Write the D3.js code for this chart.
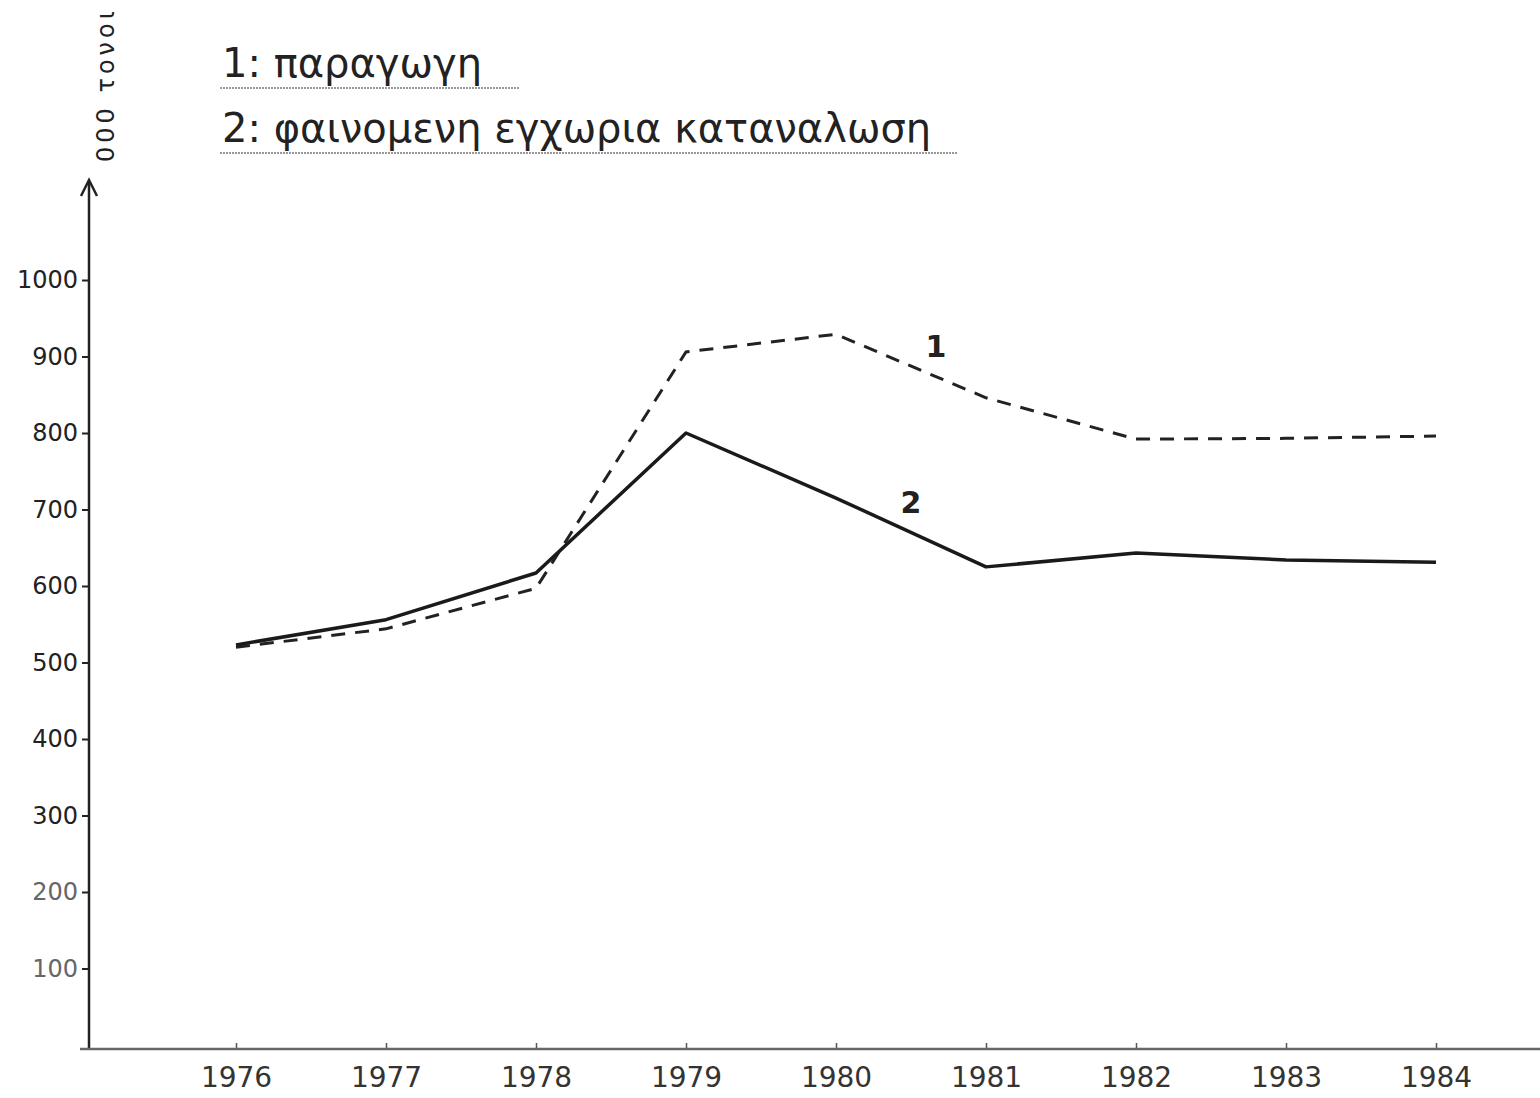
<!doctype html>
<meta charset="utf-8">
<title>Παραγωγή και κατανάλωση</title>
<style>
  body { margin: 0; background: #fff; }
  text { font-family: "DejaVu Sans", sans-serif; fill: #222; }
</style>
<svg id="visual" width="1540" height="1098"></svg>
<script src="https://cdn.jsdelivr.net/npm/d3@7"></script>
<script>

// (data)
var years = [1976, 1977, 1978, 1979, 1980, 1981, 1982, 1983, 1984];
var production = [520, 544, 597, 906, 929, 846, 792, 793, 796];
var consumption = [523, 556, 617, 800, 715, 625, 643, 634, 631];
var yTicks = [100, 200, 300, 400, 500, 600, 700, 800, 900, 1000];
var legendLabels = ["1: παραγωγη", "2: φαινομενη εγχωρια καταναλωση"];
var unitLabel = "000 τονοι";

var svg = d3.select("#visual");

// (scales)
var x = d3.scaleLinear().domain([1976, 1984]).range([236, 1436]);
var y = d3.scaleLinear().domain([0, 1000]).range([1045, 280]);

// (axes)
var yAxis = d3.axisLeft(y).tickValues(yTicks).tickFormat(d3.format("d")).tickSize(7).tickPadding(4);
var gy = svg.append("g").attr("transform", "translate(89,0)").call(yAxis);
gy.select(".domain").remove();
gy.selectAll(".tick line").attr("stroke", "#222").attr("stroke-width", 2);
gy.selectAll(".tick text")
  .attr("font-size", 24)
  .style("fill", function(d) { return d <= 200 ? "#666" : "#222"; });

svg.append("line")
  .attr("x1", 89).attr("y1", 1049).attr("x2", 89).attr("y2", 182)
  .attr("stroke", "#222").attr("stroke-width", 2.5);
svg.append("path")
  .attr("d", "M81,196 L89,180 L97,196")
  .attr("fill", "none").attr("stroke", "#222").attr("stroke-width", 2.5);

var xAxis = d3.axisBottom(x).tickValues(years).tickFormat(d3.format("d")).tickSize(-6).tickPadding(18);
var gx = svg.append("g").attr("transform", "translate(0,1049)").call(xAxis);
gx.select(".domain").remove();
gx.selectAll(".tick line").attr("stroke", "#555").attr("stroke-width", 1.5);
gx.selectAll(".tick text").attr("font-size", 28).style("fill", "#333");

svg.append("line")
  .attr("x1", 80).attr("y1", 1049).attr("x2", 1540).attr("y2", 1049)
  .attr("stroke", "#666").attr("stroke-width", 2.5);

// (unit label)
svg.append("text")
  .attr("transform", "translate(114,162) rotate(-90)")
  .attr("font-size", 24)
  .style("letter-spacing", "4px")
  .text(unitLabel);

// (legend)
var legendY = [77, 142];
var legendW = [300, 738];
legendLabels.forEach(function(t, i) {
  svg.append("text")
    .attr("x", 222).attr("y", legendY[i])
    .attr("font-size", 40)
    .text(t);
  svg.append("line")
    .attr("x1", 220).attr("x2", 220 + legendW[i])
    .attr("y1", legendY[i] + 11).attr("y2", legendY[i] + 11)
    .attr("stroke", "#777").attr("stroke-width", 1.5)
    .attr("stroke-dasharray", "2,1");
});

// (lines)
var line = d3.line()
  .x(function(d) { return x(d[0]); })
  .y(function(d) { return y(d[1]); });

svg.append("path")
  .datum(d3.zip(years, production))
  .attr("d", line)
  .attr("fill", "none")
  .attr("stroke", "#222")
  .attr("stroke-width", 3)
  .attr("stroke-dasharray", "14,10");

svg.append("path")
  .datum(d3.zip(years, consumption))
  .attr("d", line)
  .attr("fill", "none")
  .attr("stroke", "#1a1a1a")
  .attr("stroke-width", 3.5)
  .attr("stroke-linejoin", "round");

// (series labels)
svg.append("text")
  .attr("x", x(1980) + 100).attr("y", y(900))
  .attr("text-anchor", "middle")
  .attr("font-size", 30).attr("font-weight", "bold")
  .text("1");
svg.append("text")
  .attr("x", x(1980) + 75).attr("y", y(695))
  .attr("text-anchor", "middle")
  .attr("font-size", 30).attr("font-weight", "bold")
  .text("2");

</script>
